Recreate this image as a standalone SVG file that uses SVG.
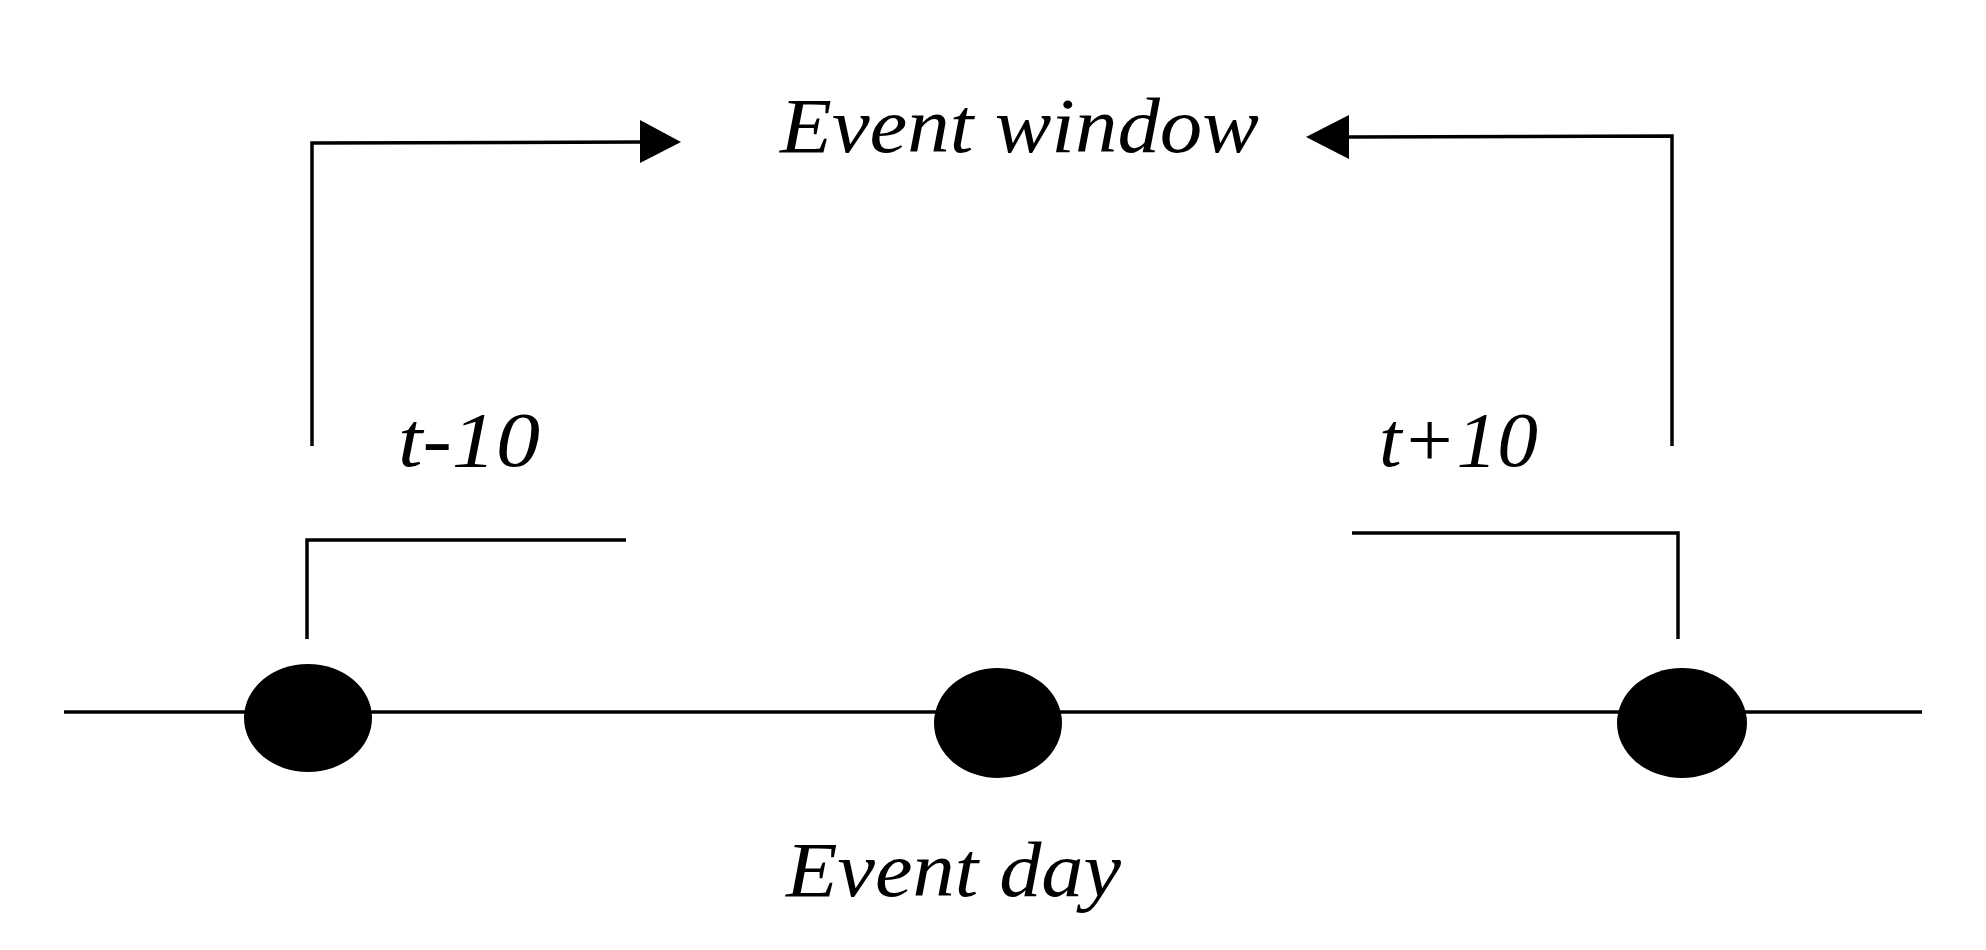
<svg xmlns="http://www.w3.org/2000/svg" width="1986" height="950" viewBox="0 0 1986 950">
<style>
.l{stroke:#000;stroke-width:3.5;fill:none}
.t{font-family:"Liberation Serif",serif;font-style:italic;font-size:78px;fill:#000}
</style>
<defs><marker id="a" markerWidth="12" markerHeight="12" refX="0" refY="5" orient="auto" markerUnits="userSpaceOnUse" viewBox="0 0 10 10"><path d="M0,0L10,5L0,10z"/></marker></defs>
<rect width="1986" height="950" fill="#fff"/>
<g id="connectors">
<line class="l" x1="64" y1="712" x2="1922" y2="712"/>
<polyline class="l" points="307,639 307,540 626,540"/>
<polyline class="l" points="1352,533 1678,533 1678,639"/>
<polyline class="l" points="312,446 312,143 642,142"/>
<path d="M640,120L681,142L640,163z"/>
<polyline class="l" points="1672,446 1672,136 1347,137"/>
<path d="M1349,115L1306,137L1349,159z"/>
</g>
<g id="dot1"><ellipse cx="308" cy="718" rx="64" ry="54"/></g>
<g id="dot2"><ellipse cx="998" cy="723" rx="64" ry="55"/></g>
<g id="dot3"><ellipse cx="1682" cy="723" rx="65" ry="55"/></g>
<g id="labels">
<text class="t" x="780" y="152" textLength="479" lengthAdjust="spacingAndGlyphs">Event window</text>
<text class="t" x="398" y="466" textLength="142" lengthAdjust="spacingAndGlyphs">t-10</text>
<text class="t" x="1379" y="466" textLength="159" lengthAdjust="spacingAndGlyphs">t+10</text>
<text class="t" x="786" y="896" textLength="335" lengthAdjust="spacingAndGlyphs">Event day</text>
</g>
</svg>
